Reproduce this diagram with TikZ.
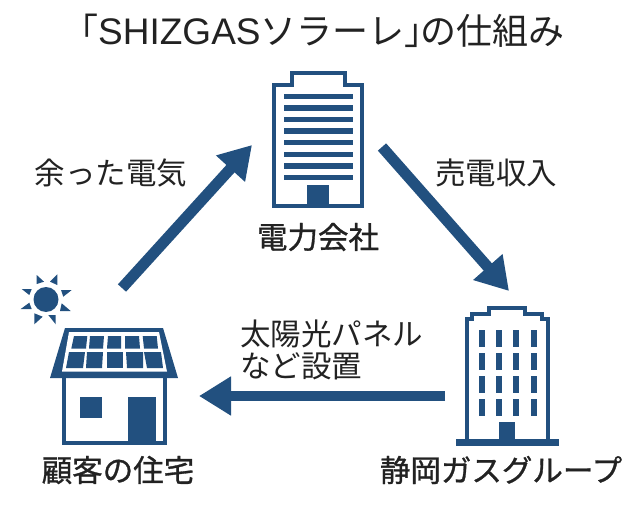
\documentclass[tikz,border=0pt]{standalone}
\usepackage{fontspec}
\setmainfont{Noto Sans CJK JP}
\newfontfamily\latinfont{Liberation Sans}
\newfontfamily\heavyfont[FakeBold=1]{Noto Sans CJK JP}
\usetikzlibrary{arrows.meta}
\definecolor{iconblue}{HTML}{22507F}
\definecolor{inktext}{HTML}{222222}
\tikzset{
  flow/.style={draw=iconblue,line width=10pt,-{Triangle[length=32pt,width=37pt]}},
  lbl/.style={text=inktext,inner sep=0pt,font=\fontsize{30.5}{32}\selectfont},
  namelbl/.style={lbl,font=\fontsize{30.5}{32}\selectfont\heavyfont},
  icon/.style={draw=iconblue,line width=4.5pt,miter limit=10}
}
\begin{document}
\begin{tikzpicture}[x=1pt,y=-1pt]
  \useasboundingbox (0,0) rectangle (638,506);
  \node[lbl,anchor=west,font=\fontsize{36}{38}\selectfont] (title) at (62,31) {「{\latinfont\fontsize{37}{38}\selectfont SHIZGAS}ソラーレ」\kern-20pt の仕組み};
  % 電力会社
  \draw[icon] (274,206) -- (274,85) -- (292,85) -- (292,73) -- (345,73) -- (345,85) -- (362,85) -- (362,206) -- cycle;
  \foreach \i in {0,...,7}
    \fill[iconblue] (283.5,93.5+\i*11.6) rectangle (352.5,99+\i*11.6);
  \fill[iconblue] (307,185) rectangle (329,206);
  \node[namelbl] (power) at (318,237) {電力会社};
  % 静岡ガスグループ
  \draw[icon] (467,439) -- (467,319) -- (472,319) -- (472,314) -- (489,314) -- (489,308) -- (525,308) -- (525,314) -- (542,314) -- (542,319) -- (548,319) -- (548,439);
  \fill[iconblue] (456,439) rectangle (559,446);
  \foreach \x in {479,496,513,531}
    \foreach \y in {330,353,376,399}
      \fill[iconblue] (\x,\y) rectangle (\x+5.5,\y+17);
  \fill[iconblue] (499,422) rectangle (515,440);
  \node[namelbl] (gas) at (501,470) {静岡ガスグループ};
  % 顧客の住宅
  \fill[iconblue] (65,328) -- (163,328) -- (178,378) -- (50,378) -- cycle;
  \fill[white] (69,332) -- (159,332) -- (167,371.5) -- (62,371.5) -- cycle;
  \foreach \ta/\tb/\ba/\bb in {74/87.3/71.3/86,90/104/89/103,108/121/107/121,125/139/125/140,142.7/156.7/144/158}
    \fill[iconblue] (\ta,336) -- (\tb,336) -- (\bb,348.5) -- (\ba,348.5) -- cycle;
  \foreach \ta/\tb/\ba/\bb in {69/85/66/83,87/103/86/102,107/123/107/123,126/143/127/143,144/161/147/163}
    \fill[iconblue] (\ta,352) -- (\tb,352) -- (\bb,368) -- (\ba,368) -- cycle;
  \draw[icon] (64,378) -- (64,443) -- (165,443) -- (165,378);
  \fill[iconblue] (80,397) rectangle (102,418);
  \fill[iconblue] (128,397) rectangle (156,443);
  \fill[iconblue] (46,299.5) circle (12.5);
  \foreach \ax/\ay/\bx/\by/\cx/\cy in {36.7/275/36.7/284/44/281.7,57.3/274.3/57.3/285/50/281.7,71.7/290/61/290/63.3/296.7,61.7/303.3/70.7/311/60/311,48.3/315/55.7/315/55.7/324.3,34.3/324.3/34.3/313.3/42.7/316.7,20.7/309/31.7/309/29.3/302.7,21.7/289/31.7/289/29.3/295}
    \fill[iconblue] (\ax,\ay) -- (\bx,\by) -- (\cx,\cy) -- cycle;
  \node[namelbl] (home) at (118,470) {顧客の住宅};
  % 矢印
  \coordinate (homeout) at (122,288);
  \coordinate (powerin) at (252,145);
  \coordinate (powerout) at (382,147);
  \coordinate (gasin) at (509,291);
  \coordinate (gasout) at (445,396);
  \coordinate (homein) at (199,396);
  \draw[flow,line width=11pt] (homeout) -- (powerin);
  \draw[flow,line width=11pt] (powerout) -- (gasin);
  \draw[flow] (gasout) -- (homein);
  \node[lbl] (surplus) at (111,173) {余った電気};
  \node[lbl] (income) at (496,173) {売電収入};
  \node[lbl,anchor=west,align=left] (install) at (240,350) {太陽光パネル\\など設置};
\end{tikzpicture}
\end{document}
